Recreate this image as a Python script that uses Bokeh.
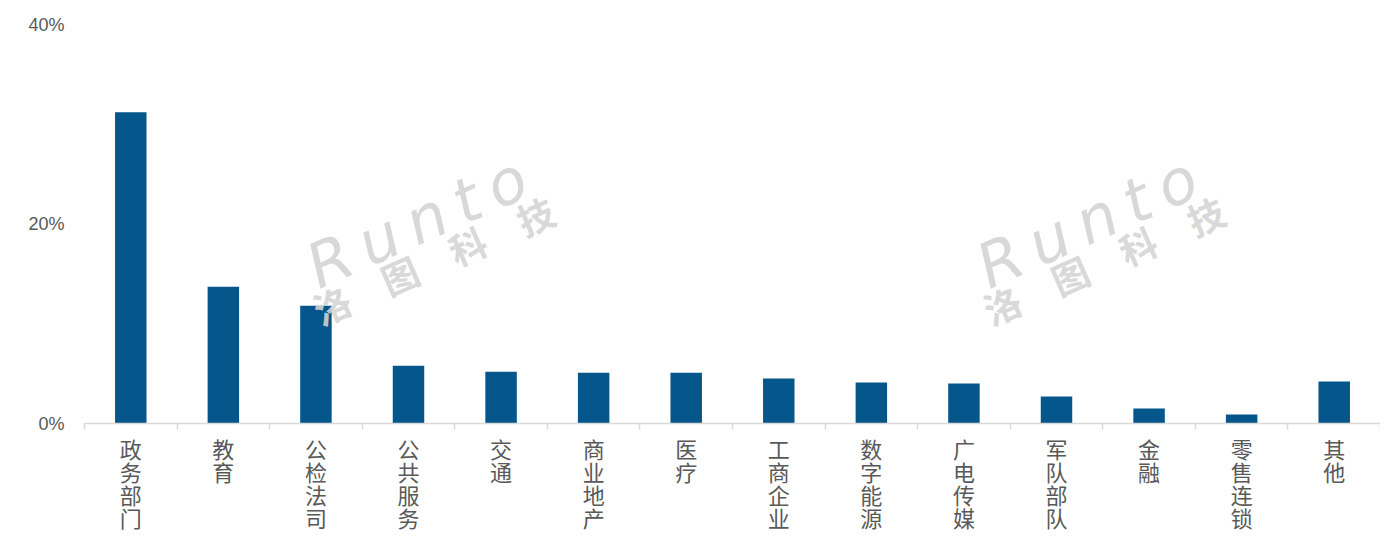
from bokeh.plotting import figure
from bokeh.models import FixedTicker, Range1d
from bokeh.core.properties import value
from bokeh.embed import file_html
from bokeh.resources import INLINE

categories = ["政务部门", "教育", "公检法司", "公共服务", "交通", "商业地产", "医疗",
              "工商企业", "数字能源", "广电传媒", "军队部队", "金融", "零售连锁", "其他"]
shares = [31.2, 13.7, 11.8, 5.8, 5.2, 5.1, 5.1, 4.5, 4.1, 4.0, 2.7, 1.5, 0.9, 4.2]
y_ticks = [0, 20, 40]
y_tick_labels = ["0%", "20%", "40%"]

n = len(categories)
centers = [i + 0.5 for i in range(n)]
bounds = list(range(n + 1))

p = figure(width=1380, height=535, output_backend="svg", toolbar_location=None,
           x_range=Range1d(0, n), y_range=Range1d(0, 40),
           min_border_left=84, min_border_right=0, min_border_top=24, min_border_bottom=100)
p.outline_line_color = None
p.xgrid.grid_line_color = None
p.ygrid.grid_line_color = None

p.vbar(x=centers, top=shares, width=0.34, color="#05568A", line_color=None)

# watermarks
ts = "\u2009"
for dx in [0.0, 7.24]:
    p.text(x=[2.44 + dx], y=[15.4], text=[ts.join("Runto")], angle=24, angle_units="deg",
           text_font=value("DejaVu Sans"), text_font_style="italic",
           text_font_size="62px", text_color="#d4d4d4", text_alpha=0.9,
           text_align="left", text_baseline="alphabetic")
    p.text(x=[3.77 + dx], y=[16.4], text=["洛\u3000图\u3000科\u3000技"], angle=23.6, angle_units="deg",
           text_font=value("Noto Sans CJK SC"), text_font_style="bold",
           text_font_size="37px", text_color="#d4d4d4", text_alpha=0.9,
           text_align="center", text_baseline="middle")

xa = p.xaxis[0]
xa.ticker = FixedTicker(ticks=centers, minor_ticks=bounds)
xa.major_label_overrides = {c: "\n".join(list(cat)) for c, cat in zip(centers, categories)}
xa.axis_line_color = "#d9d9d9"
xa.axis_line_width = 1.5
xa.major_tick_line_color = None
xa.major_tick_out = 0
xa.major_tick_in = 0
xa.minor_tick_line_color = "#d9d9d9"
xa.minor_tick_line_width = 1.5
xa.minor_tick_out = 6
xa.minor_tick_in = 0
xa.major_label_standoff = 2
xa.major_label_text_font = "Noto Sans CJK SC"
xa.major_label_text_font_size = "22px"
xa.major_label_text_color = "#595959"
xa.major_label_text_line_height = 0.72

ya = p.yaxis[0]
ya.ticker = FixedTicker(ticks=y_ticks, minor_ticks=[])
ya.major_label_overrides = {t: l for t, l in zip(y_ticks, y_tick_labels)}
ya.axis_line_color = None
ya.major_tick_line_color = None
ya.minor_tick_line_color = None
ya.major_label_standoff = 14
ya.major_label_text_font = "Liberation Sans"
ya.major_label_text_font_size = "18px"
ya.major_label_text_color = "#595959"

open("out.html", "w").write(file_html(p, INLINE))
